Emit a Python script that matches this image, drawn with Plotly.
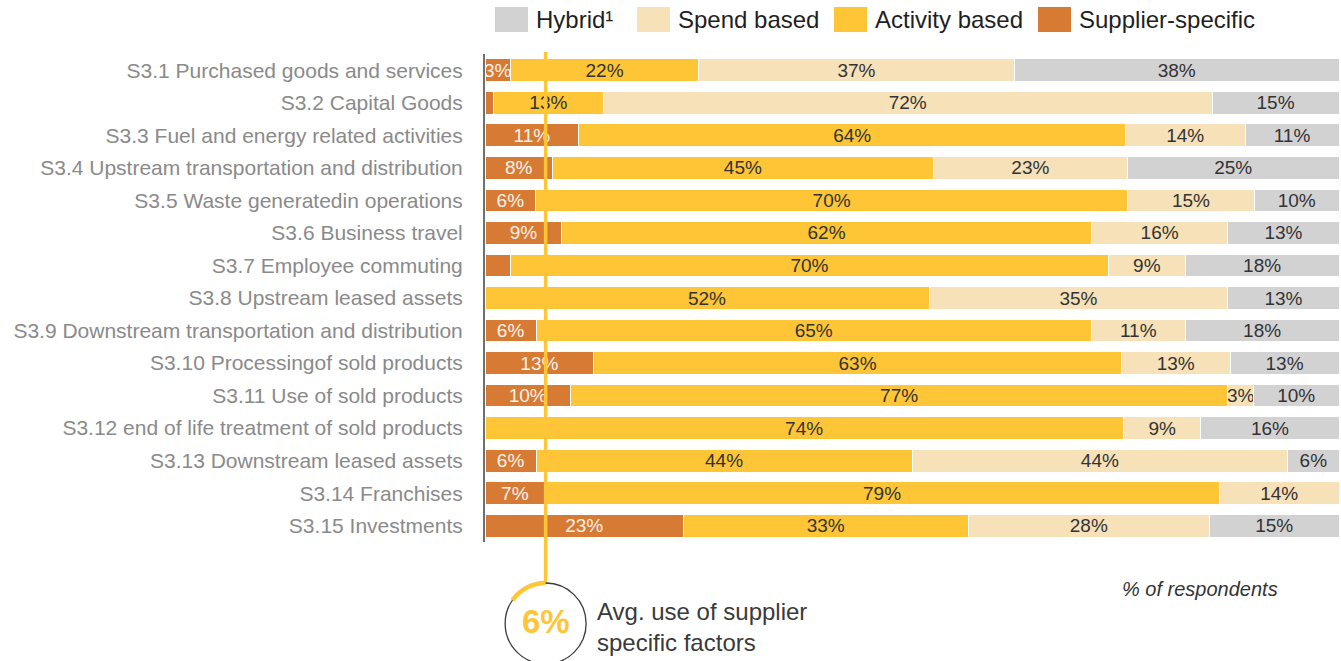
import math
import plotly.graph_objects as go

# ---------------- data ----------------
categories = [
    "S3.1 Purchased goods and services",
    "S3.2 Capital Goods",
    "S3.3 Fuel and energy related activities",
    "S3.4 Upstream transportation and distribution",
    "S3.5 Waste generatedin operations",
    "S3.6 Business travel",
    "S3.7 Employee commuting",
    "S3.8 Upstream leased assets",
    "S3.9 Downstream transportation and distribution",
    "S3.10 Processingof sold products",
    "S3.11 Use of sold products",
    "S3.12 end of life treatment of sold products",
    "S3.13 Downstream leased assets",
    "S3.14 Franchises",
    "S3.15 Investments",
]
supplier_specific = [3, 1, 11, 8, 6, 9, 3, 0, 6, 13, 10, 0, 6, 7, 23]
activity_based = [22, 13, 64, 45, 70, 62, 70, 52, 65, 63, 77, 74, 44, 79, 33]
spend_based = [37, 72, 14, 23, 15, 16, 9, 35, 11, 13, 3, 9, 44, 14, 28]
hybrid = [38, 15, 11, 25, 10, 13, 18, 13, 18, 13, 10, 16, 6, 0, 15]

series_names = ["Supplier-specific", "Activity based", "Spend based", "Hybrid¹"]
legend_order = ["Hybrid¹", "Spend based", "Activity based", "Supplier-specific"]
# labels that are not printed in the reference
hidden_labels = {("Supplier-specific", "S3.2 Capital Goods"),
                 ("Supplier-specific", "S3.7 Employee commuting")}

avg_supplier = 6
avg_text = "Avg. use of supplier<br>specific factors"
unit_note = "% of respondents"

# ---------------- styles ----------------
colors = {
    "Supplier-specific": "#D77A33",
    "Activity based": "#FEC536",
    "Spend based": "#F6E1B9",
    "Hybrid¹": "#D3D2D3",
}
text_colors = {
    "Supplier-specific": "#FBF3EC",
    "Activity based": "#333333",
    "Spend based": "#333333",
    "Hybrid¹": "#333333",
}
FONT = "Liberation Sans, Arial, sans-serif"
W, H = 1341, 661
ML, MR, MT, MB = 485, 2, 54, 119
AVG_MARK_X = 7.1  # horizontal position of the average marker on the value axis

plot_w = W - ML - MR
plot_h = H - MT - MB


def px2x(px):
    return (px - ML) / plot_w


def py2y(py):
    return (H - MB - py) / plot_h


values = {
    "Supplier-specific": supplier_specific,
    "Activity based": activity_based,
    "Spend based": spend_based,
    "Hybrid¹": hybrid,
}

fig = go.Figure()
for name in series_names:
    vals = values[name]
    texts = [
        "" if (v == 0 or (name, c) in hidden_labels) else f"{v}%"
        for v, c in zip(vals, categories)
    ]
    fig.add_trace(go.Bar(
        y=categories, x=vals, name=name, orientation="h",
        marker=dict(color=colors[name], line=dict(color="white", width=1)),
        text=texts, textposition="inside", insidetextanchor="middle",
        textfont=dict(family=FONT, size=19, color=text_colors[name]),
        showlegend=False, hoverinfo="skip",
    ))

shapes = []
annotations = []

# manual legend
legend_sq = {"Hybrid¹": 495, "Spend based": 637, "Activity based": 834,
             "Supplier-specific": 1038}
for name in legend_order:
    x0 = legend_sq[name]
    shapes.append(dict(type="rect", xref="paper", yref="paper",
                       x0=px2x(x0), x1=px2x(x0 + 33), y0=py2y(32), y1=py2y(7),
                       fillcolor=colors[name], line=dict(width=0)))
    annotations.append(dict(text=name, xref="paper", yref="paper",
                            x=px2x(x0 + 39), y=py2y(20), xanchor="left",
                            yanchor="middle", showarrow=False,
                            font=dict(family=FONT, size=24, color="#1f1f1f")))

# average marker: line, circle, arc
shapes.append(dict(type="line", xref="x", yref="paper",
                   x0=AVG_MARK_X, x1=AVG_MARK_X, y0=py2y(52), y1=py2y(584),
                   line=dict(color="#FEC536", width=3.5), layer="above"))
cy = py2y(623.5)
shapes.append(dict(type="circle", xref="x", yref="paper",
                   xsizemode="pixel", ysizemode="pixel",
                   xanchor=AVG_MARK_X, yanchor=cy,
                   x0=-40.5, x1=40.5, y0=-40.5, y1=40.5,
                   line=dict(color="#3a3a3a", width=1.3)))
pts = []
for i in range(0, 31):
    a = math.radians(90 + 55 * i / 30)
    pts.append((40.5 * math.cos(a), 40.5 * math.sin(a)))
path = "M " + " L ".join(f"{x:.2f},{y:.2f}" for x, y in pts)
shapes.append(dict(type="path", xref="x", yref="paper",
                   xsizemode="pixel", ysizemode="pixel",
                   xanchor=AVG_MARK_X, yanchor=cy, path=path,
                   line=dict(color="#FEC536", width=4.5)))

annotations.append(dict(text=f"<b>{avg_supplier}%</b>", xref="x", yref="paper",
                        x=AVG_MARK_X, y=py2y(621), xanchor="center",
                        yanchor="middle", showarrow=False,
                        font=dict(family=FONT, size=33, color="#FEC536")))
annotations.append(dict(text=avg_text, xref="paper", yref="paper",
                        x=px2x(595), y=py2y(627), xanchor="left",
                        yanchor="middle", align="left", showarrow=False,
                        font=dict(family=FONT, size=24, color="#3a3a3a")))
annotations.append(dict(text=unit_note, xref="paper", yref="paper",
                        x=px2x(1280), y=py2y(589), xanchor="right",
                        yanchor="middle", showarrow=False,
                        font=dict(family=FONT, size=20, color="#333333",
                                  style="italic")))

fig.update_layout(
    width=W, height=H,
    margin=dict(l=ML, r=MR, t=MT, b=MB, pad=0),
    barmode="stack", barnorm="percent", bargap=0.3,
    plot_bgcolor="white", paper_bgcolor="white",
    uniformtext=dict(mode="show", minsize=19),
    shapes=shapes, annotations=annotations,
    xaxis=dict(range=[0, 100], visible=False, fixedrange=True),
    yaxis=dict(autorange="reversed", showline=True, linecolor="#707070",
               linewidth=2, showgrid=False, zeroline=False, ticks="",
               ticklabelstandoff=16,
               tickfont=dict(family=FONT, size=21, color="#8a8a8a")),
    font=dict(family=FONT),
)

fig.write_html(
    "out.html",
    config={"displayModeBar": False},
    post_script="document.body.style.margin='0px';"
                "document.body.style.overflow='hidden';",
)
